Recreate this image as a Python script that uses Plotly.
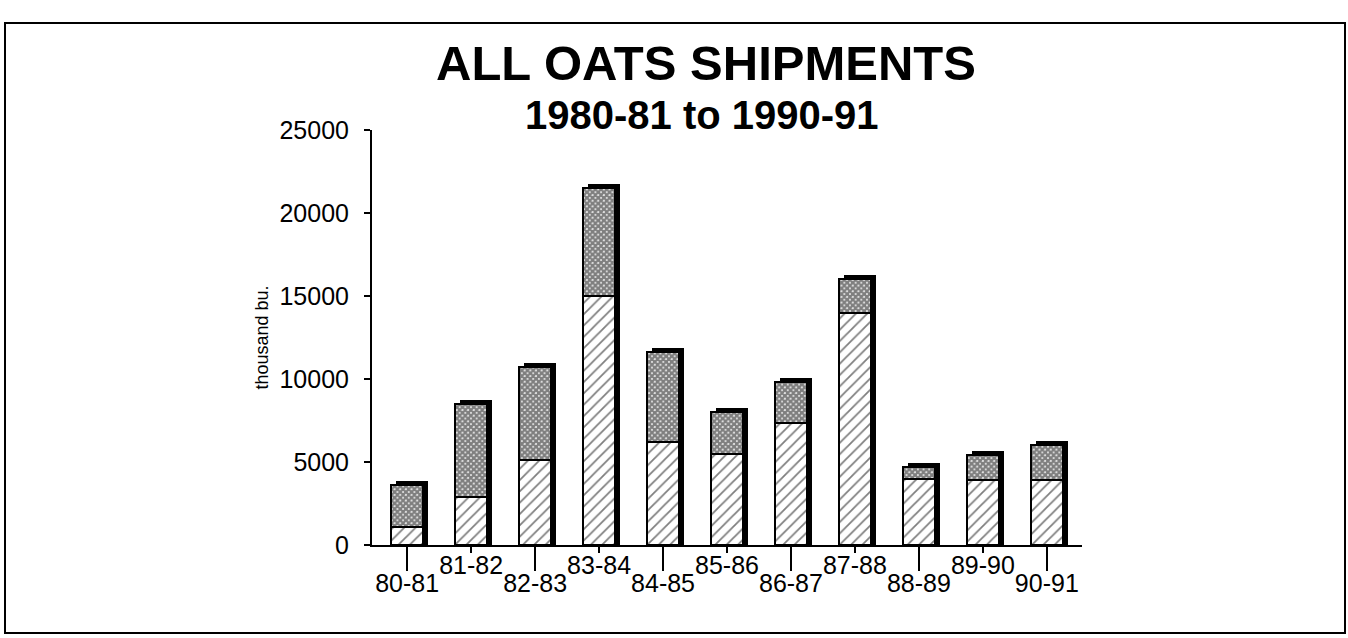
import plotly.graph_objects as go

# Oats shipments by crop year (thousand bushels)
seasons = ["80-81", "81-82", "82-83", "83-84", "84-85", "85-86",
           "86-87", "87-88", "88-89", "89-90", "90-91"]
lower_part = [1100, 2900, 5100, 15000, 6200, 5500, 7350, 14000, 4000, 3900, 3900]
upper_part = [2500, 5600, 5600, 6500, 5400, 2500, 2450, 2000, 700, 1500, 2100]
y_ticks = [0, 5000, 10000, 15000, 20000, 25000]

totals = [a + b for a, b in zip(lower_part, upper_part)]

W, H = 1348, 638
L, R, T, B = 372, 266, 130, 93
plot_w, plot_h = W - L - R, H - T - B

FONT = "Liberation Sans, Arial, sans-serif"
BAR_W = 0.5
SH_DX = 5 / (plot_w / 11.1)          # drop-shadow shift, in category units
SH_DY = 4 / plot_h * 25000           # drop-shadow lift, in data units

fig = go.Figure()

# black drop shadow behind each stacked column
fig.add_trace(go.Bar(
    x=seasons, y=[t + SH_DY for t in totals],
    width=BAR_W, offset=-BAR_W / 2 + SH_DX,
    marker=dict(color="black", line=dict(width=0)),
    hoverinfo="skip", showlegend=False,
))
# hatched lower segment
fig.add_trace(go.Bar(
    x=seasons, y=lower_part, width=BAR_W, offset=-BAR_W / 2,
    marker=dict(color="white", line=dict(color="black", width=2),
                pattern=dict(shape="/", fgcolor="black", bgcolor="white",
                             size=8, solidity=0.22)),
    showlegend=False,
))
# stippled upper segment
fig.add_trace(go.Bar(
    x=seasons, y=upper_part, base=lower_part, width=BAR_W, offset=-BAR_W / 2,
    marker=dict(color="white", line=dict(color="black", width=2),
                pattern=dict(shape="x", fgcolor="black", bgcolor="white",
                             size=4, solidity=0.85)),
    showlegend=False,
))
# carrier for the second (long-tick) category axis
fig.add_trace(go.Scatter(
    x=seasons, y=totals, xaxis="x2", mode="markers",
    marker=dict(opacity=0), hoverinfo="skip", showlegend=False,
))

xrange = [-0.55, len(seasons) - 0.45]
common_x = dict(type="category", categoryorder="array", categoryarray=seasons,
                range=xrange, showgrid=False, zeroline=False,
                ticks="outside", tickcolor="black", tickwidth=1.5,
                ticklabelstandoff=-9,
                tickfont=dict(family=FONT, size=25, color="black"))

fig.update_layout(
    width=W, height=H,
    margin=dict(l=L, r=R, t=T, b=B),
    paper_bgcolor="white", plot_bgcolor="white",
    barmode="overlay", bargap=0,
    xaxis=dict(**common_x, tickvals=seasons[1::2], ticklen=6,
               showline=True, linecolor="black", linewidth=1.5),
    xaxis2=dict(**common_x, overlaying="x", side="bottom", anchor="y",
                tickvals=seasons[0::2], ticklen=25, showline=False),
    yaxis=dict(range=[0, 25000], tickvals=y_ticks, tickformat="d",
               showgrid=False, zeroline=False, showline=True,
               linecolor="black", linewidth=2,
               ticks="outside", ticklen=6, tickwidth=1.5, tickcolor="black",
               ticklabelstandoff=10,
               tickfont=dict(family=FONT, size=25, color="black"),
               title=dict(text="thousand bu.", standoff=6,
                          font=dict(family=FONT, size=18, color="black"))),
    font=dict(family=FONT, color="black"),
)


def px_x(p):
    return (p - L) / plot_w


def px_y(p):
    return (H - B - p) / plot_h


# headings
fig.add_annotation(text="<b>ALL OATS SHIPMENTS</b>", xref="paper", yref="paper",
                   x=px_x(706), y=px_y(63), showarrow=False,
                   xanchor="center", yanchor="middle",
                   font=dict(family=FONT, size=49, color="black"))
fig.add_annotation(text="<b>1980-81 to 1990-91</b>", xref="paper", yref="paper",
                   x=px_x(702), y=px_y(115), showarrow=False,
                   xanchor="center", yanchor="middle",
                   font=dict(family=FONT, size=40, color="black"))

# outer frame
fig.add_shape(type="rect", xref="paper", yref="paper",
              x0=px_x(5), x1=px_x(1345), y0=px_y(633), y1=px_y(23),
              line=dict(color="black", width=2), layer="below")

fig.write_html("out.html")
